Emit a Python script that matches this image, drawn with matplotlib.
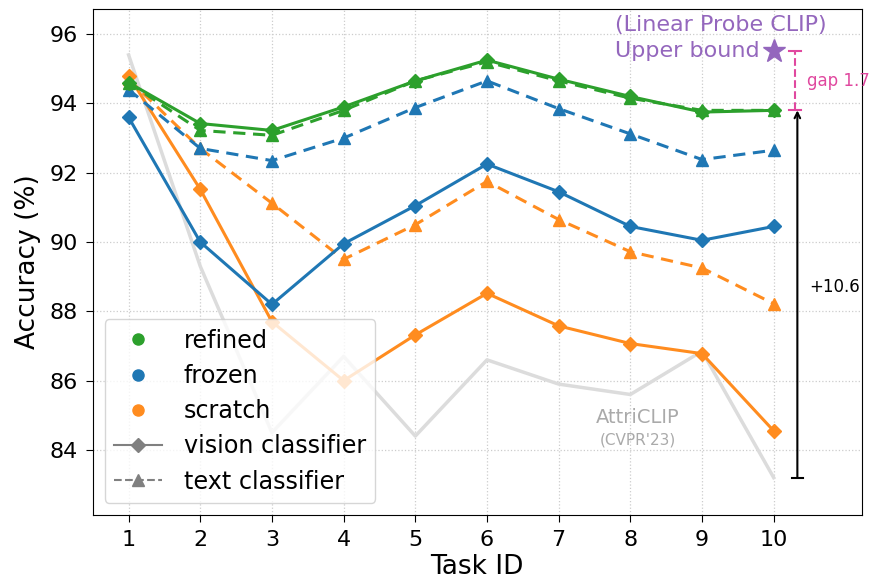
import matplotlib
matplotlib.use("Agg")
import matplotlib.pyplot as plt
from matplotlib.lines import Line2D

tasks = [1, 2, 3, 4, 5, 6, 7, 8, 9, 10]

# accuracy per task (vision / text classifier heads)
refined_vis = [94.6, 93.42, 93.22, 93.9, 94.65, 95.25, 94.7, 94.2, 93.75, 93.8]
refined_txt = [94.6, 93.22, 93.08, 93.8, 94.65, 95.2, 94.65, 94.15, 93.8, 93.8]
frozen_vis = [93.6, 90.0, 88.2, 89.95, 91.05, 92.25, 91.45, 90.45, 90.05, 90.45]
frozen_txt = [94.4, 92.7, 92.35, 93.0, 93.88, 94.65, 93.85, 93.12, 92.38, 92.65]
scratch_vis = [94.8, 91.52, 87.7, 86.0, 87.32, 88.52, 87.58, 87.07, 86.78, 84.55]
scratch_txt = [94.7, 92.7, 91.12, 89.5, 90.5, 91.75, 90.65, 89.72, 89.25, 88.22]
attriclip = [95.4, 89.3, 84.5, 86.7, 84.4, 86.6, 85.9, 85.6, 86.85, 83.2]

upper_bound = 95.5
gap = 1.7
gain = 10.6

c_ref = "#2ca02c"
c_fro = "#1f77b4"
c_scr = "#ff8c1f"
c_up = "#9467bd"
c_gap = "#e0489f"

fig = plt.figure(figsize=(8.75, 5.88), dpi=100)
ax = fig.add_axes([0.106, 0.124, 0.879, 0.861])

ax.plot(tasks, attriclip, color="#dcdcdc", lw=2.5, zorder=1)

for vis, txt, c in [(scratch_vis, scratch_txt, c_scr), (frozen_vis, frozen_txt, c_fro),
                    (refined_vis, refined_txt, c_ref)]:
    ax.plot(tasks, vis, color=c, lw=2.2, marker="D", ms=7, zorder=3)
    ax.plot(tasks, txt, color=c, lw=2.2, ls="--", dashes=(4, 2.5), marker="^", ms=9, zorder=3)

# upper bound star and gap
ax.plot(10, upper_bound, marker="*", color=c_up, ms=17, zorder=4)
ax.text(7.79, upper_bound, "Upper bound", color=c_up, fontsize=16, ha="left", va="center")
ax.text(7.79, upper_bound + 0.75, "(Linear Probe CLIP)", color=c_up, fontsize=16,
        ha="left", va="center")
xg = 10.3
top_ref = refined_txt[-1]
ax.plot([xg, xg], [top_ref, top_ref + gap], color=c_gap, lw=1.5, ls="--", zorder=4)
ax.plot([xg - 0.08, xg + 0.08], [top_ref + gap] * 2, color=c_gap, lw=1.5)
ax.plot([xg - 0.08, xg + 0.08], [top_ref] * 2, color=c_gap, lw=1.5)
ax.text(xg + 0.17, top_ref + gap / 2, "gap 1.7", color=c_gap, fontsize=12, va="center")

# improvement over AttriCLIP
xa = 10.33
ax.annotate("", xy=(xa, top_ref), xytext=(xa, top_ref - gain),
            arrowprops=dict(arrowstyle="->", color="black", lw=1.5, shrinkA=0, shrinkB=0))
ax.plot([xa - 0.08, xa + 0.08], [top_ref - gain] * 2, color="black", lw=1.5)
ax.text(xa + 0.17, 88.7, "+10.6", fontsize=12, va="center")

ax.text(8.1, 84.95, "AttriCLIP", color="#aaaaaa", fontsize=14, ha="center", va="center")
ax.text(8.1, 84.3, "(CVPR'23)", color="#aaaaaa", fontsize=11, ha="center", va="center")

ax.set_xlim(0.5, 11.23)
ax.set_ylim(82.12, 96.73)
ax.set_xticks(tasks)
ax.set_yticks([84, 86, 88, 90, 92, 94, 96])
ax.tick_params(labelsize=16, length=5, pad=5.5)
ax.grid(True, ls=":", color="#cccccc", lw=0.9)
ax.set_axisbelow(True)
ax.set_xlabel("Task ID", fontsize=19, labelpad=3)
ax.set_ylabel("Accuracy (%)", fontsize=19, labelpad=6)

handles = [
    Line2D([], [], ls="none", marker="o", color=c_ref, ms=8, label="refined"),
    Line2D([], [], ls="none", marker="o", color=c_fro, ms=8, label="frozen"),
    Line2D([], [], ls="none", marker="o", color=c_scr, ms=8, label="scratch"),
    Line2D([], [], color="gray", marker="D", ms=7, label="vision classifier"),
    Line2D([], [], color="gray", ls="--", marker="^", ms=9, label="text classifier"),
]
ax.legend(handles=handles, loc="lower left", fontsize=17.2, handlelength=2.0,
          handletextpad=0.9, borderaxespad=0.5, labelspacing=0.47)

fig.savefig("out.png", dpi=100)
